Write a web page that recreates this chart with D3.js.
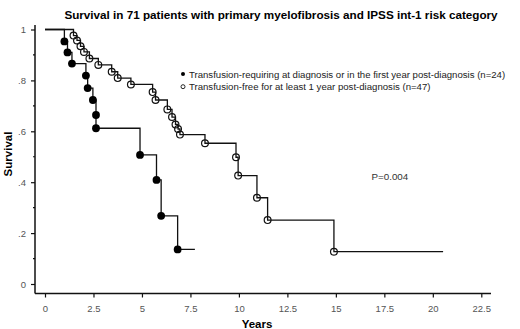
<!DOCTYPE html>
<html>
<head>
<meta charset="utf-8">
<script src="https://cdn.jsdelivr.net/npm/d3@7"></script>
<style>
  body { margin: 0; background: #fff; }
  svg { display: block; font-family: "Liberation Sans", Arial, sans-serif; }
  .tick text { fill: #555; font-size: 9.5px; }
  .tick line { stroke: #111; stroke-width: 1.2; }
</style>
</head>
<body>
<div id="chart"></div>
<script>
// Kaplan-Meier steps (years, survival)
var reqTimes = [1.0, 1.16, 1.39, 2.11, 2.2, 2.47, 2.63, 2.63, 4.9, 5.75, 5.99, 6.84];
var reqSurv  = [0.953, 0.91, 0.866, 0.819, 0.77, 0.723, 0.664, 0.612, 0.507, 0.409, 0.268, 0.136];
var reqEnd = 7.73;

var freeTimes = [1.47, 1.65, 1.83, 2.01, 2.29, 2.75, 3.44, 3.75, 4.43, 5.55, 5.7, 6.31, 6.55, 6.73, 6.86, 6.96, 8.25, 9.85, 9.96, 10.93, 11.48, 14.9];
var freeSurv  = [0.976, 0.957, 0.934, 0.912, 0.886, 0.861, 0.834, 0.809, 0.784, 0.754, 0.723, 0.686, 0.656, 0.627, 0.609, 0.587, 0.553, 0.498, 0.426, 0.339, 0.251, 0.127];
var freeEnd = 20.53;

var xTicks = [0, 2.5, 5, 7.5, 10, 12.5, 15, 17.5, 20, 22.5];
var yTicks = [0, 0.2, 0.4, 0.6, 0.8, 1];
var yMinor = [0.1, 0.3, 0.5, 0.7, 0.9];

var legendLabels = ["Transfusion-requiring at diagnosis or in the first year post-diagnosis (n=24)",
                    "Transfusion-free for at least 1 year post-diagnosis (n=47)"];

var width = 520, height = 329;
var svg = d3.select("#chart").append("svg")
  .attr("width", width).attr("height", height);

var x = d3.scaleLinear().domain([0, 22.5]).range([45, 481.3]);
var y = d3.scaleLinear().domain([0, 1]).range([284, 29.5]);
var axisY = 293.5, axisX = 35;

// title
svg.append("text")
  .attr("x", 281).attr("y", 19)
  .attr("text-anchor", "middle")
  .style("font-weight", "bold").style("font-size", "11.7px")
  .text("Survival in 71 patients with primary myelofibrosis and IPSS int-1 risk category");

// y axis
var gy = svg.append("g").attr("transform", "translate(" + axisX + ",0)")
  .call(d3.axisLeft(y).tickValues(yTicks).tickSize(4).tickPadding(5)
    .tickFormat(function(d) { return d == 0 ? "0" : d == 1 ? "1" : d3.format(".1f")(d).replace(/^0/, ""); }));
gy.select(".domain").remove();
gy.selectAll(".minor").data(yMinor).enter().append("line")
  .attr("x1", -2).attr("x2", 0)
  .attr("y1", function(d) { return y(d); }).attr("y2", function(d) { return y(d); })
  .attr("stroke", "#111").attr("stroke-width", 1.2);
svg.append("line").attr("x1", axisX).attr("x2", axisX).attr("y1", 25).attr("y2", axisY)
  .attr("stroke", "#111").attr("stroke-width", 1.5);

// x axis
var gx = svg.append("g").attr("transform", "translate(0," + axisY + ")")
  .call(d3.axisBottom(x).tickValues(xTicks).tickSize(4).tickPadding(8)
    .tickFormat(function(d) { return d % 1 ? d.toFixed(1) : d; }));
gx.select(".domain").remove();
svg.append("line").attr("x1", axisX).attr("x2", 491).attr("y1", axisY).attr("y2", axisY)
  .attr("stroke", "#111").attr("stroke-width", 1.5);

// axis titles
svg.append("text")
  .attr("transform", "translate(12,154) rotate(-90)")
  .attr("text-anchor", "middle")
  .style("font-weight", "bold").style("font-size", "11.5px")
  .text("Survival");
svg.append("text")
  .attr("x", 257).attr("y", 327.5)
  .attr("text-anchor", "middle")
  .style("font-weight", "bold").style("font-size", "11.5px")
  .text("Years");

// step curves
var line = d3.line()
  .x(function(d) { return x(d[0]); })
  .y(function(d) { return y(d[1]); })
  .curve(d3.curveStepAfter);

function stepPoints(times, surv, end) {
  var pts = [[0, 1]];
  for (var i = 0; i < times.length; i++) pts.push([times[i], surv[i]]);
  pts.push([end, surv[surv.length - 1]]);
  return pts;
}

svg.append("path")
  .attr("d", line(stepPoints(freeTimes, freeSurv, freeEnd)))
  .attr("fill", "none").attr("stroke", "#111").attr("stroke-width", 1.3);
svg.append("path")
  .attr("d", line(stepPoints(reqTimes, reqSurv, reqEnd)))
  .attr("fill", "none").attr("stroke", "#111").attr("stroke-width", 1.3);

svg.append("g").selectAll("circle")
  .data(freeTimes).enter().append("circle")
  .attr("cx", function(d) { return x(d); })
  .attr("cy", function(d, i) { return y(freeSurv[i]); })
  .attr("r", 3.4)
  .attr("fill", "none").attr("stroke", "#111").attr("stroke-width", 1.2);

svg.append("g").selectAll("circle")
  .data(reqTimes).enter().append("circle")
  .attr("cx", function(d) { return x(d); })
  .attr("cy", function(d, i) { return y(reqSurv[i]); })
  .attr("r", 3.9)
  .attr("fill", "#000");

// legend
var leg = svg.append("g").attr("transform", "translate(183,74)");
leg.append("circle").attr("cx", 0).attr("cy", 0).attr("r", 2).attr("fill", "#000");
leg.append("circle").attr("cx", 0).attr("cy", 12.7).attr("r", 2)
  .attr("fill", "none").attr("stroke", "#111").attr("stroke-width", 0.9);
leg.selectAll("text").data(legendLabels).enter().append("text")
  .attr("x", 6).attr("y", function(d, i) { return i * 12.7 + 3.5; })
  .style("font-size", "9.6px").style("fill", "#222")
  .text(function(d) { return d; });

svg.append("text")
  .attr("x", 371.5).attr("y", 179.5)
  .style("font-size", "9.8px").style("fill", "#333")
  .text("P=0.004");
</script>
</body>
</html>
